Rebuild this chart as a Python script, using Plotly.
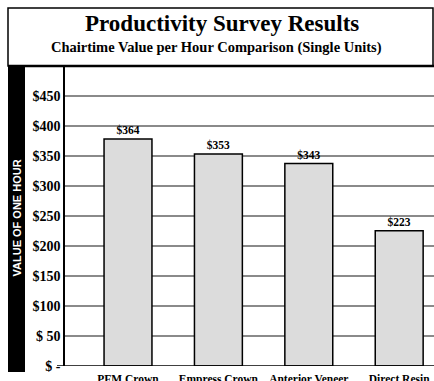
import plotly.graph_objects as go

categories = ["PFM Crown", "Empress Crown", "Anterior Veneer", "Direct Resin"]
bar_values = [378, 353, 337, 225]
bar_labels = ["$364", "$353", "$343", "$223"]
tick_values = [0, 50, 100, 150, 200, 250, 300, 350, 400, 450]
tick_labels = ["$ -", "$ 50", "$100", "$150", "$200", "$250", "$300", "$350", "$400", "$450"]

W, H = 434, 381
L, R, T, B = 65, 0, 67, 15
pw, ph = W - L - R, H - T - B

def px(x):
    return (x - L) / pw

def py(y):
    return (H - B - y) / ph

serif = "Liberation Serif, Times New Roman, serif"

fig = go.Figure(go.Bar(
    x=list(range(len(categories))),
    y=bar_values,
    text=[f"<b>{t}</b>" for t in bar_labels],
    textposition="outside",
    textfont=dict(family=serif, size=11.5, color="black"),
    marker=dict(color="#dcdcdc", line=dict(color="black", width=1.5)),
    width=0.53,
    cliponaxis=False,
))

fig.update_layout(
    width=W, height=H,
    margin=dict(l=L, r=R, t=T, b=B, autoexpand=False),
    paper_bgcolor="white", plot_bgcolor="white",
    showlegend=False,
    font=dict(family=serif, color="black"),
    xaxis=dict(
        range=[-0.697, 3.385],
        tickvals=list(range(len(categories))),
        ticktext=[f"<b>{c}</b>" for c in categories],
        tickfont=dict(family=serif, size=11.5, color="black"),
        showgrid=False, zeroline=False,
        showline=False, ticks="",
        ticklabelstandoff=4,
        automargin=False,
    ),
    yaxis=dict(
        range=[0, 497.8],
        tickvals=tick_values,
        ticktext=[f"<b>{t}</b>" for t in tick_labels],
        tickfont=dict(family=serif, size=14, color="black"),
        showgrid=True, gridcolor="#8a8a8a", gridwidth=1.5,
        zeroline=False, showline=True, linecolor="black", linewidth=1.5,
        ticks="",
        automargin=False,
    ),
)

shapes = []
# title box
shapes.append(dict(type="rect", xref="paper", yref="paper",
                   x0=px(8), x1=px(433), y0=py(66), y1=py(8),
                   line=dict(color="black", width=1.5), fillcolor="rgba(0,0,0,0)"))
shapes.append(dict(type="line", xref="paper", yref="paper",
                   x0=px(8), x1=px(434), y0=py(66), y1=py(66),
                   line=dict(color="black", width=2.5)))
# black side strip
shapes.append(dict(type="rect", xref="paper", yref="paper", layer="below",
                   x0=px(8), x1=px(25), y0=py(372), y1=py(66),
                   line=dict(width=0), fillcolor="black"))
# baseline
shapes.append(dict(type="line", xref="paper", yref="y",
                   x0=px(57), x1=1, y0=0, y1=0,
                   line=dict(color="black", width=1.5)))
fig.update_layout(shapes=shapes)

fig.add_annotation(text="<b>Productivity Survey Results</b>", xref="paper", yref="paper",
                   x=px(222), y=py(23), showarrow=False, xanchor="center", yanchor="middle",
                   font=dict(family=serif, size=23, color="black"))
fig.add_annotation(text="<b>Chairtime Value per Hour Comparison (Single Units)</b>",
                   xref="paper", yref="paper", x=px(216), y=py(47), showarrow=False,
                   xanchor="center", yanchor="middle",
                   font=dict(family=serif, size=14.5, color="black"))
fig.add_annotation(text="<b>VALUE OF ONE HOUR</b>", xref="paper", yref="paper",
                   x=px(16.5), y=py(218), showarrow=False, textangle=-90,
                   xanchor="center", yanchor="middle",
                   font=dict(family="Liberation Sans, Arial, sans-serif", size=11, color="white"))

fig.write_html("out.html")
